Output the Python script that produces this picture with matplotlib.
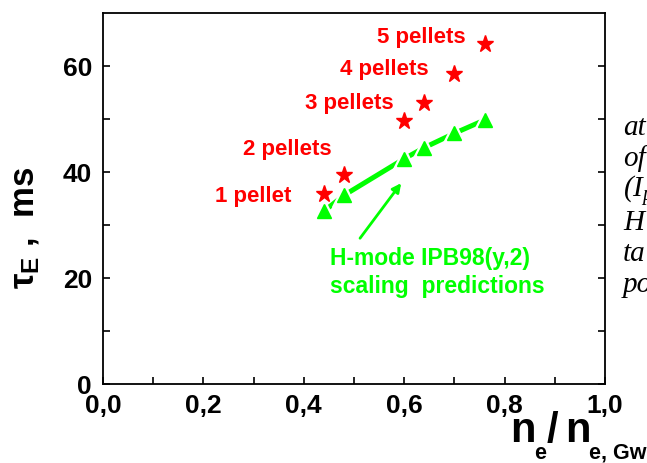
import matplotlib
matplotlib.use("Agg")
import matplotlib.pyplot as plt
from matplotlib.ticker import FixedLocator, FixedFormatter

plt.rcParams['font.family'] = ['Liberation Sans', 'DejaVu Sans']
plt.rcParams['mathtext.fontset'] = 'custom'
plt.rcParams['mathtext.rm'] = 'Liberation Sans:bold'
plt.rcParams['mathtext.bf'] = 'Liberation Sans:bold'
plt.rcParams['mathtext.it'] = 'Liberation Serif:italic'

# ---- data ----
density = [0.44, 0.48, 0.60, 0.64, 0.70, 0.76]
tau_exp = [35.9, 39.5, 49.7, 53.0, 58.4, 64.1]
tau_scaling = [32.6, 35.6, 42.5, 44.6, 47.3, 49.8]
pellet_labels = ["1 pellet", "2 pellets", "3 pellets", "4 pellets", "5 pellets"]
xticks = [0.0, 0.2, 0.4, 0.6, 0.8, 1.0]
xtick_labels = ["0,0", "0,2", "0,4", "0,6", "0,8", "1,0"]
yticks = [0, 20, 40, 60]
ytick_labels = ["0", "20", "40", "60"]
side_text = ["at", "of", "(I$_p$", "H", "ta", "po"]

RED = "#FF0000"
GREEN = "#00FF00"

fig = plt.figure(figsize=(6.47, 4.63), dpi=100)
W, H = 647, 463
ax = fig.add_axes([103 / W, 1 - 384 / H, 502 / W, 371 / H])
ax.set_xlim(0, 1.0)
ax.set_ylim(0, 70)

# scaling line with gaps around markers
ax.plot(density, tau_scaling, '-', color=GREEN, lw=3.6, zorder=2, solid_capstyle='butt')
ax.plot(density, tau_scaling, '^', color='white', ms=17, mec='white', zorder=3, ls='none')
ax.plot(density, tau_scaling, '^', color=GREEN, ms=10, mec=GREEN, zorder=4, ls='none')

# experiment stars
ax.plot(density, tau_exp, '*', color=RED, ms=12.5, mec=RED, ls='none', zorder=5)

# pellet labels (left / baseline positions)
label_pos = [(0.223, 34.3), (0.279, 43.2), (0.402, 51.9), (0.472, 58.3), (0.546, 64.4)]
for txt, (lx, ly) in zip(pellet_labels, label_pos):
    ax.text(lx, ly, txt, color=RED, fontsize=16, fontweight='bold',
            ha='left', va='baseline')

# green annotation
ax.annotate('', xy=(0.594, 37.9), xytext=(0.512, 27.5),
            arrowprops=dict(arrowstyle='-|>', color=GREEN, lw=2.0, mutation_scale=13,
                            shrinkA=0, shrinkB=0))
ax.text(0.452, 22.5, "H-mode IPB98(y,2)", color=GREEN, fontsize=16.5,
        fontweight='bold', ha='left', va='baseline')
ax.text(0.452, 17.2, "scaling  predictions", color=GREEN, fontsize=16.5,
        fontweight='bold', ha='left', va='baseline')

# ticks
ax.xaxis.set_major_locator(FixedLocator(xticks))
ax.xaxis.set_major_formatter(FixedFormatter(xtick_labels))
ax.xaxis.set_minor_locator(FixedLocator([0.1, 0.3, 0.5, 0.7, 0.9]))
ax.yaxis.set_major_locator(FixedLocator(yticks))
ax.yaxis.set_major_formatter(FixedFormatter(ytick_labels))
ax.yaxis.set_minor_locator(FixedLocator([10, 30, 50]))
ax.tick_params(which='both', direction='in', length=5, width=1.2, color='black',
               right=True)
ax.tick_params(axis='x', which='major', pad=7.5)
ax.tick_params(axis='y', which='major', pad=8)
for lab in ax.get_xticklabels() + ax.get_yticklabels():
    lab.set_fontsize(19)
    lab.set_fontweight('bold')
for s in ax.spines.values():
    s.set_linewidth(1.3)

# x axis label built from pieces: n_e / n_{e, Gw}
xl_main = dict(fontsize=30, fontweight='bold', ha='left', va='baseline', color='black')
xl_sub = dict(fontsize=15.5, fontweight='bold', ha='left', va='baseline', color='black')
fig.text(510 / W, 1 - 442 / H, "n", **xl_main)
fig.text(534 / W, 1 - 459 / H, "e", **xl_sub)
fig.text(547 / W, 1 - 442 / H, "/", **xl_main)
fig.text(565 / W, 1 - 442 / H, "n", **xl_main)
fig.text(589 / W, 1 - 459 / H, "e, Gw", **xl_sub)

# y axis label
fig.text(26 / W, 1 - 228 / H, r"$\mathrm{\tau_E}$ ,  ms", fontsize=25,
         fontweight='bold', rotation=90, ha='center', va='center', color='black')

# cut-off italic text at right edge
for i, t in enumerate(side_text):
    fig.text(623 / W, 1 - (135 + 31.5 * i) / H, t, fontsize=21, family='Liberation Serif',
             style='italic', ha='left', va='baseline', color='black')

fig.savefig("out.png", dpi=100)
